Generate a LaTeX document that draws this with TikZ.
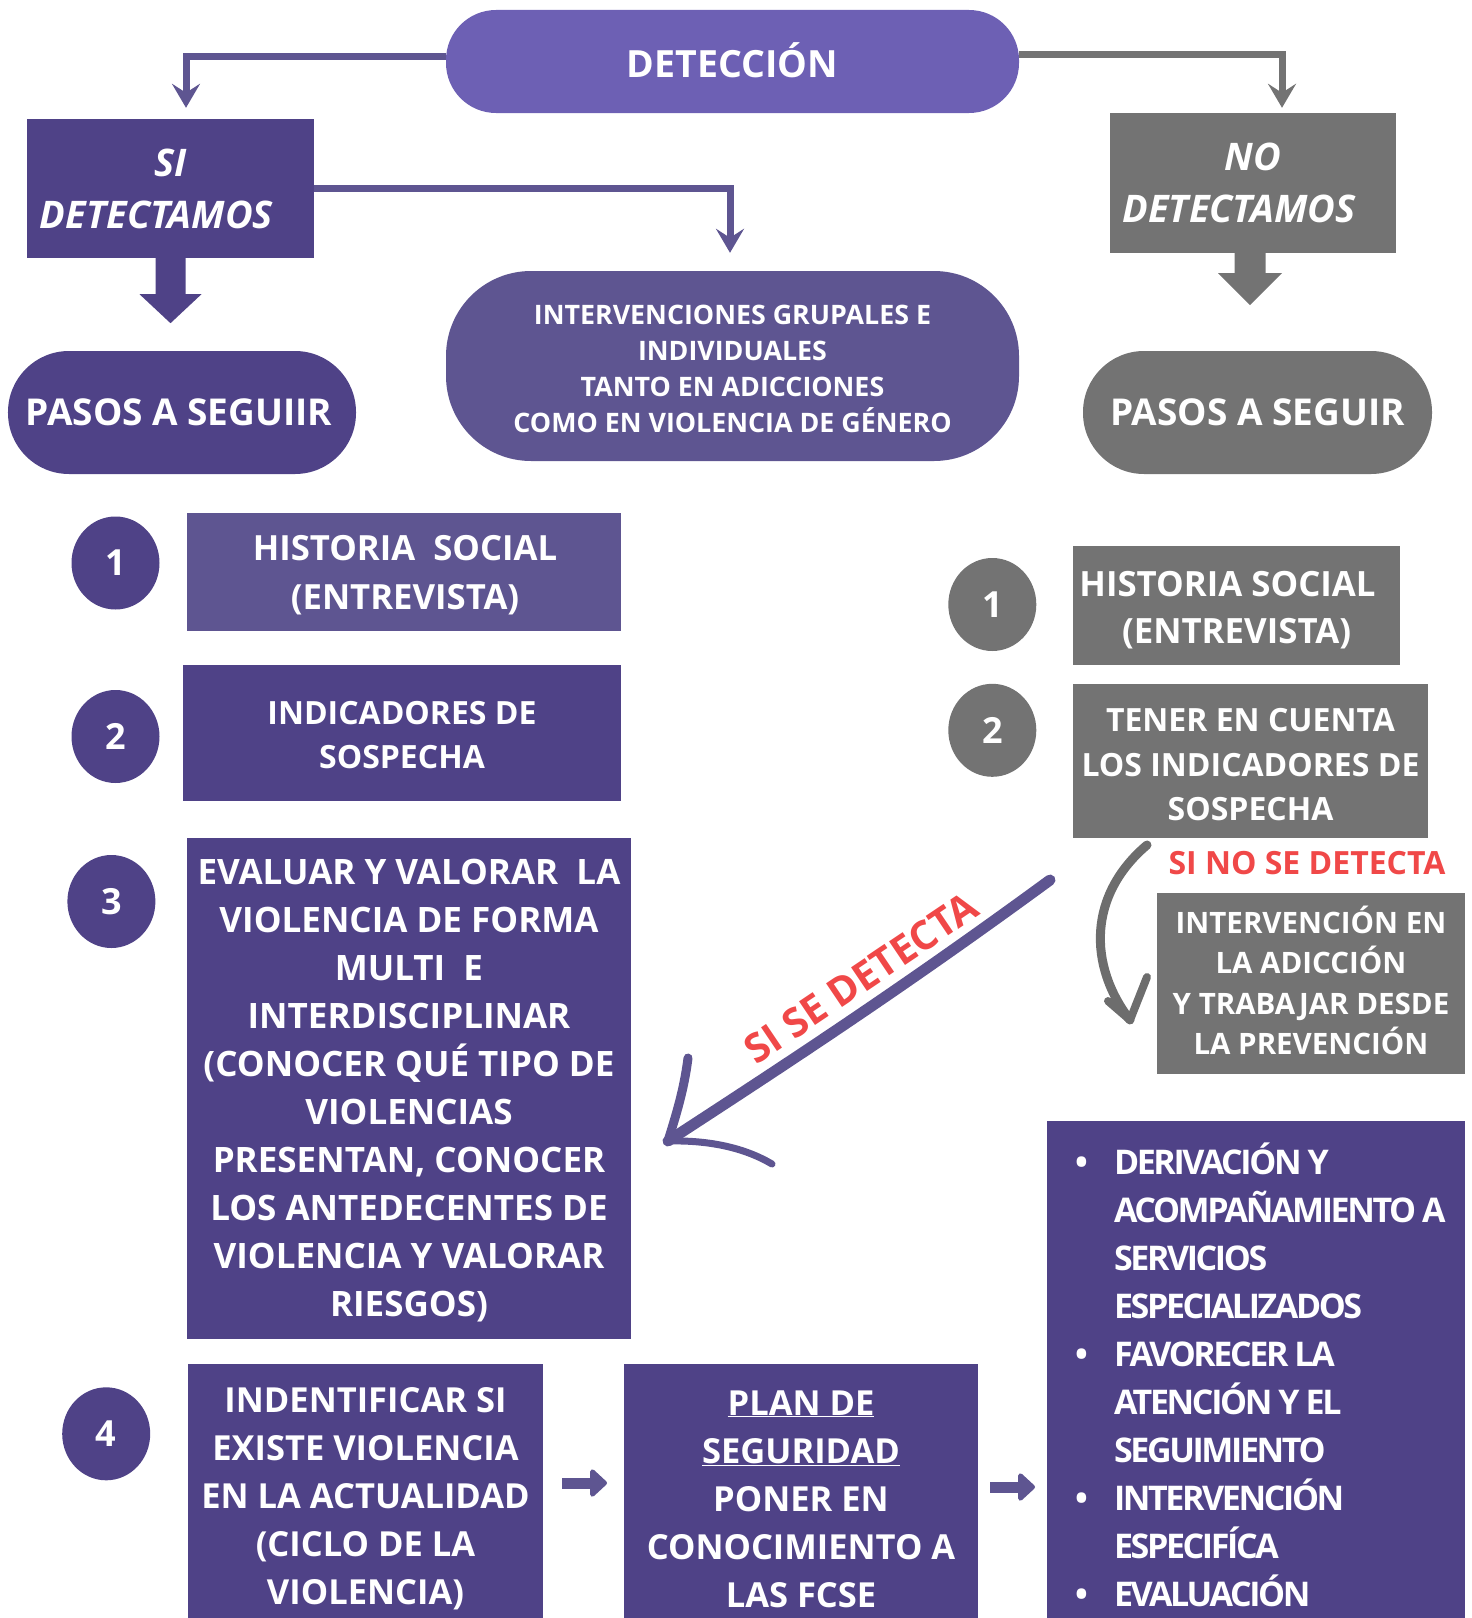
\documentclass[tikz,border=0pt]{standalone}
\usepackage{fontspec}
\setmainfont{Open Sans}
\newfontfamily\tightfont{Open Sans}[LetterSpace=-7]
\usetikzlibrary{arrows.meta,shapes.geometric}
\definecolor{cdark}{RGB}{79,66,135}
\definecolor{cmed}{RGB}{94,85,145}
\definecolor{cdet}{RGB}{109,96,180}
\definecolor{cgray}{RGB}{115,115,115}
\definecolor{cred}{RGB}{240,72,72}
\newcommand{\fsz}[2]{\fontsize{#1bp}{#2bp}\selectfont\bfseries}
\newcommand{\bl}[1]{\makebox[39bp][l]{•}\mbox{#1}}
\newcommand{\cl}[1]{\hspace*{39bp}\mbox{#1}}
\newcommand{\tsp}{\hspace{6bp}}
\tikzset{
  blk/.style={rectangle,inner sep=0pt,align=center,text=white},
  txt/.style={inner sep=0pt,align=center,text=white},
  numc/.style={ellipse,inner sep=0pt,minimum width=88bp,minimum height=93bp,text=white,font=\fsz{36}{40}},
  conn/.style={line width=7bp,-{Stealth[length=24bp,width=28bp,inset=9bp]}},
  smallarr/.style={line width=11bp,color=cmed,-{Triangle[round,length=18bp,width=32bp]}},
  handarr/.style={line width=9bp,color=cmed,line cap=round,line join=round},
  grayarr/.style={line width=8bp,color=cgray!95!black,line cap=round,line join=round},
}
\begin{document}
\begin{tikzpicture}[x=1bp,y=-1bp]
\useasboundingbox (0,0) rectangle (1472,1618);
\clip (0,0) rectangle (1472,1618);
% top
\node[blk,fill=cdet,rounded corners=50bp,minimum width=573bp,minimum height=103bp,font=\fsz{37.5}{44}] (det) at (732.5,61.5) {\raisebox{2bp}{DETECCIÓN}};
\node[blk,fill=cdark,minimum width=287bp,minimum height=139bp,font={\fsz{38}{52}\itshape}] (si) at (170.5,188.5) {SI\\DETECTAMOS\hspace*{28bp}};
\node[blk,fill=cgray,minimum width=286bp,minimum height=140bp,font={\fsz{38}{52}\itshape}] (no) at (1253,183) {NO\\DETECTAMOS\hspace*{28bp}};
\node[blk,fill=cmed,rounded corners=85bp,minimum width=573bp,minimum height=190bp] (interv) at (732.5,366) {};
\node[txt,font=\fsz{26.8}{36}] (intervt) at (732.5,368.5) {INTERVENCIONES GRUPALES E\\INDIVIDUALES\\TANTO EN ADICCIONES\\COMO EN VIOLENCIA DE GÉNERO};
\node[blk,fill=cdark,rounded corners=61bp,minimum width=348bp,minimum height=123bp,font=\fsz{37}{44}] (pasosL) at (182,412.5) {PASOS A SEGUIIR\hspace*{6bp}};
\node[blk,fill=cgray,rounded corners=61bp,minimum width=349bp,minimum height=123bp,font=\fsz{37}{44}] (pasosR) at (1257.5,412.5) {PASOS A SEGUIR};
% connectors
\draw[conn,cmed] ([yshift=4.5bp]det.west) -| ([xshift=15.5bp,yshift=11bp]si.north);
\draw[conn,cgray] ([yshift=6.5bp]det.east) -| ([xshift=29bp,yshift=5bp]no.north);
\draw[conn,cmed] (si.east) -| ([xshift=-2.5bp,yshift=18bp]interv.north);
\fill[cdark] ([xshift=-15bp]si.south) -- ++(0,36) -- ++(-16,0) -- ++(31,29) -- ++(31,-29) -- ++(-16,0) -- ++(0,-36) -- cycle;
\fill[cgray] ([xshift=-18.5bp]no.south) -- ++(0,20) -- ++(-16.5,0) -- ++(32,32) -- ++(32,-32) -- ++(-16.5,0) -- ++(0,-20) -- cycle;
% left column
\node[numc,fill=cdark] (c1) at (115.5,563) {1};
\node[numc,fill=cdark] (c2) at (115.5,736.5) {2};
\node[numc,fill=cdark] (c3) at (111.4,901.5) {3};
\node[numc,fill=cdark] (c4) at (106.2,1433.8) {4};
\node[blk,fill=cmed,minimum width=434bp,minimum height=118bp] (hsL) at (404,572) {};
\node[txt,font=\fsz{34.7}{48.5}] (hsLt) at (405,575) {HISTORIA\ \ SOCIAL\\(ENTREVISTA)};
\node[blk,fill=cdark,minimum width=438bp,minimum height=136bp] (indL) at (402,733) {};
\node[txt,font=\fsz{32}{44}] (indLt) at (402,735) {INDICADORES DE\\SOSPECHA};
\node[blk,fill=cdark,minimum width=444bp,minimum height=501bp] (evalL) at (409,1088.5) {};
\node[txt,font=\fsz{35}{48}] (evalLt) at (409,1091) {EVALUAR Y VALORAR\ \ LA\\VIOLENCIA DE FORMA\\MULTI\ \ E\\INTERDISCIPLINAR\\(CONOCER QUÉ TIPO DE\\VIOLENCIAS\\PRESENTAN, CONOCER\\LOS ANTEDECENTES DE\\VIOLENCIA Y VALORAR\\RIESGOS)};
\node[blk,fill=cdark,minimum width=355bp,minimum height=262bp] (box4) at (365.5,1495) {};
\node[txt,font=\fsz{34.5}{48}] (box4t) at (365.5,1499) {INDENTIFICAR SI\\EXISTE VIOLENCIA\\EN LA ACTUALIDAD\\(CICLO DE LA\\VIOLENCIA)};
\node[blk,fill=cdark,minimum width=354bp,minimum height=262bp] (plan) at (801,1495) {};
\node[txt,font=\fsz{34.5}{48}] (plant) at (801,1499) {\underline{PLAN DE}\\\underline{SEGURIDAD}\\PONER EN\\CONOCIMIENTO A\\LAS FCSE};
\node[blk,fill=cdark,minimum width=418bp,minimum height=507bp,text width=362bp,inner xsep=28bp,align=left,font={\fsz{34}{48}\tightfont}] (bul) at (1256,1374.5) {%
\bl{DERIVACIÓN\tsp Y}\\
\cl{ACOMPAÑAMIENTO\tsp A}\\
\cl{SERVICIOS}\\
\cl{ESPECIALIZADOS}\\
\bl{FAVORECER\tsp LA}\\
\cl{ATENCIÓN\tsp Y\tsp EL}\\
\cl{SEGUIMIENTO}\\
\bl{INTERVENCIÓN}\\
\cl{ESPECIFÍCA}\\
\bl{EVALUACIÓN}};
% small arrows
\coordinate (a1s) at (562,1483);
\coordinate (a1e) at (607,1483);
\coordinate (a2s) at (990,1487);
\coordinate (a2e) at (1035,1487);
\draw[smallarr] (a1s) -- (a1e);
\draw[smallarr] (a2s) -- (a2e);
% right column
\node[numc,fill=cgray] (r1) at (992.3,604.5) {1};
\node[numc,fill=cgray] (r2) at (992.3,730.3) {2};
\node[blk,fill=cgray,minimum width=327bp,minimum height=119bp] (hsR) at (1236.5,605.5) {};
\node[txt,font=\fsz{34.8}{47.5}] (hsRt) at (1236.5,610) {HISTORIA SOCIAL\hspace*{18bp}\\(ENTREVISTA)};
\node[blk,fill=cgray,minimum width=355bp,minimum height=154bp] (tener) at (1250.5,761) {};
\node[txt,font=\fsz{32}{44.5}] (tenert) at (1250.5,765) {TENER EN CUENTA\\LOS INDICADORES DE\\SOSPECHA};
\node[text=cred,inner sep=0pt,font=\fsz{32}{36}] (sinose) at (1307,863) {SI NO SE DETECTA};
\node[blk,fill=cgray,minimum width=308bp,minimum height=181bp] (interR) at (1311,983.5) {};
\node[txt,font=\fsz{29.5}{40.3}] (interRt) at (1311,980.5) {INTERVENCIÓN EN\\LA ADICCIÓN\\Y TRABAJAR DESDE\\LA PREVENCIÓN};
% gray curved arrow
\coordinate (g0) at (1147,845);
\coordinate (g1) at (1130,1020);
\coordinate (gb1) at (1108,1001);
\coordinate (gb2) at (1147,977);
\draw[grayarr,line width=9bp] (g0) .. controls (1088,895) and (1088,965) .. (g1);
\draw[grayarr] (gb1) -- (g1) -- (gb2);
% hand-drawn arrow
\coordinate (h0) at (1050,880);
\coordinate (h1) at (668,1141);
\coordinate (hb1) at (688,1058);
\coordinate (hb2) at (772,1164);
\draw[handarr,line width=11bp] (h0) .. controls (900,990) and (780,1068) .. (h1);
\draw[handarr,line width=9bp] (hb1) .. controls (684,1090) and (676,1115) .. (h1);
\draw[handarr,line width=7bp] (h1) .. controls (710,1140) and (745,1148) .. (hb2);
\node[text=cred,inner sep=0pt,rotate=34,font=\fsz{40}{44}] (sise) at (861,978) {SI SE DETECTA};
\end{tikzpicture}
\end{document}
